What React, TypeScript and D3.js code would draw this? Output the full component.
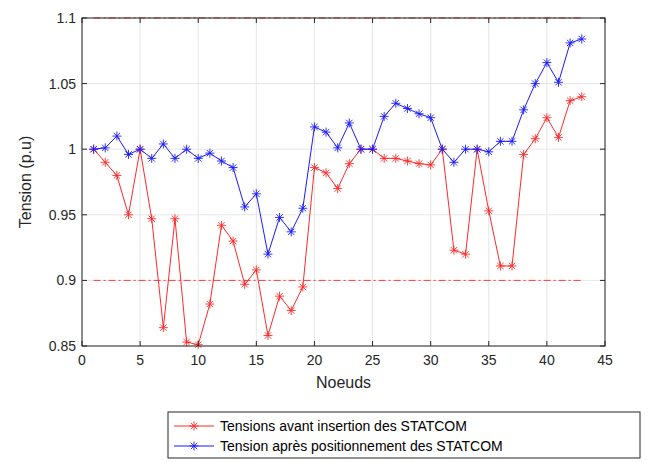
import * as d3 from 'd3';

const nodes = d3.range(1, 44);
const avant = [1.0, 0.99, 0.98, 0.95, 1.0, 0.947, 0.864, 0.947, 0.853, 0.851, 0.882, 0.942, 0.93, 0.897, 0.908, 0.858, 0.888, 0.877, 0.895, 0.986, 0.982, 0.97, 0.989, 1.0, 1.0, 0.993, 0.993, 0.991, 0.989, 0.988, 1.0, 0.923, 0.92, 1.0, 0.953, 0.911, 0.911, 0.996, 1.008, 1.024, 1.009, 1.037, 1.04];
const apres = [1.0, 1.001, 1.01, 0.996, 1.0, 0.993, 1.004, 0.993, 1.0, 0.993, 0.997, 0.991, 0.986, 0.956, 0.966, 0.92, 0.948, 0.937, 0.955, 1.017, 1.013, 1.001, 1.02, 1.0, 1.0, 1.025, 1.035, 1.031, 1.027, 1.024, 1.0, 0.99, 1.0, 1.0, 0.998, 1.006, 1.006, 1.03, 1.05, 1.066, 1.051, 1.081, 1.084];
const limits = [1.1, 0.9];
const xTicks = [0, 5, 10, 15, 20, 25, 30, 35, 40, 45];
const yTicks = [0.85, 0.9, 0.95, 1, 1.05, 1.1];

const L = 82, R = 605, T = 18, B = 346;
const font = 'Arial, Liberation Sans, sans-serif';

function Star({ x, y, c }: { x: number; y: number; c: string }) {
  const r = 4.5, d = r * 0.707;
  return (
    <path d={`M${x - r},${y}H${x + r}M${x},${y - r}V${y + r}M${x - d},${y - d}L${x + d},${y + d}M${x - d},${y + d}L${x + d},${y - d}`} stroke={c} strokeWidth={0.9} />
  );
}

export default function App() {
  const x = d3.scaleLinear().domain([0, 45]).range([L, R]);
  const y = d3.scaleLinear().domain([0.85, 1.1]).range([B, T]);
  const line = d3.line<number>().x((_, i) => x(nodes[i])).y(d => y(d));
  const series = [
    { data: avant, c: '#ff2a2a', label: 'Tensions avant insertion des STATCOM' },
    { data: apres, c: '#1a1aff', label: 'Tension après positionnement des STATCOM' },
  ];
  return (
    <svg width={655} height={462} style={{ position: 'absolute', left: 0, top: 0, background: '#fff' }} fontFamily={font}>
      <rect x={L} y={T} width={R - L} height={B - T} fill="#fff" />
      {xTicks.map(t => <line key={'gx' + t} x1={x(t)} x2={x(t)} y1={T} y2={B} stroke="#e6e6e6" />)}
      {yTicks.map(t => <line key={'gy' + t} x1={L} x2={R} y1={y(t)} y2={y(t)} stroke="#e6e6e6" />)}
      {limits.map(v => (
        <line key={'l' + v} x1={x(1)} x2={x(43)} y1={y(v)} y2={y(v)} stroke="#ff3b3b" strokeWidth={1} strokeDasharray="7,3,2,3" />
      ))}
      {series.map(s => (
        <g key={s.c}>
          <path d={line(s.data) || ''} fill="none" stroke={s.c} strokeWidth={1} />
          {s.data.map((v, i) => <Star key={i} x={x(nodes[i])} y={y(v)} c={s.c} />)}
        </g>
      ))}
      <rect x={L} y={T} width={R - L} height={B - T} fill="none" stroke="#262626" strokeWidth={1} />
      {xTicks.map(t => (
        <g key={'tx' + t}>
          <line x1={x(t)} x2={x(t)} y1={B} y2={B - 5} stroke="#262626" />
          <line x1={x(t)} x2={x(t)} y1={T} y2={T + 5} stroke="#262626" />
          <text x={x(t)} y={B + 19} textAnchor="middle" fontSize={14} fill="#262626">{t}</text>
        </g>
      ))}
      {yTicks.map(t => (
        <g key={'ty' + t}>
          <line x1={L} x2={L + 5} y1={y(t)} y2={y(t)} stroke="#262626" />
          <line x1={R} x2={R - 5} y1={y(t)} y2={y(t)} stroke="#262626" />
          <text x={L - 6} y={y(t) + 5} textAnchor="end" fontSize={14} fill="#262626">{d3.format('')(t)}</text>
        </g>
      ))}
      <text x={(L + R) / 2} y={B + 42} textAnchor="middle" fontSize={16} fill="#262626">Noeuds</text>
      <text transform={`translate(31,${(T + B) / 2}) rotate(-90)`} textAnchor="middle" fontSize={16} fill="#262626">Tension (p.u)</text>
      <rect x={168} y={412} width={472} height={46} fill="#fff" stroke="#262626" />
      {series.map((s, i) => {
        const ly = 426 + i * 20;
        return (
          <g key={'lg' + i}>
            <line x1={174} x2={214} y1={ly} y2={ly} stroke={s.c} />
            <Star x={194} y={ly} c={s.c} />
            <text x={220} y={ly + 5} fontSize={14} fill="#000">{s.label}</text>
          </g>
        );
      })}
    </svg>
  );
}
